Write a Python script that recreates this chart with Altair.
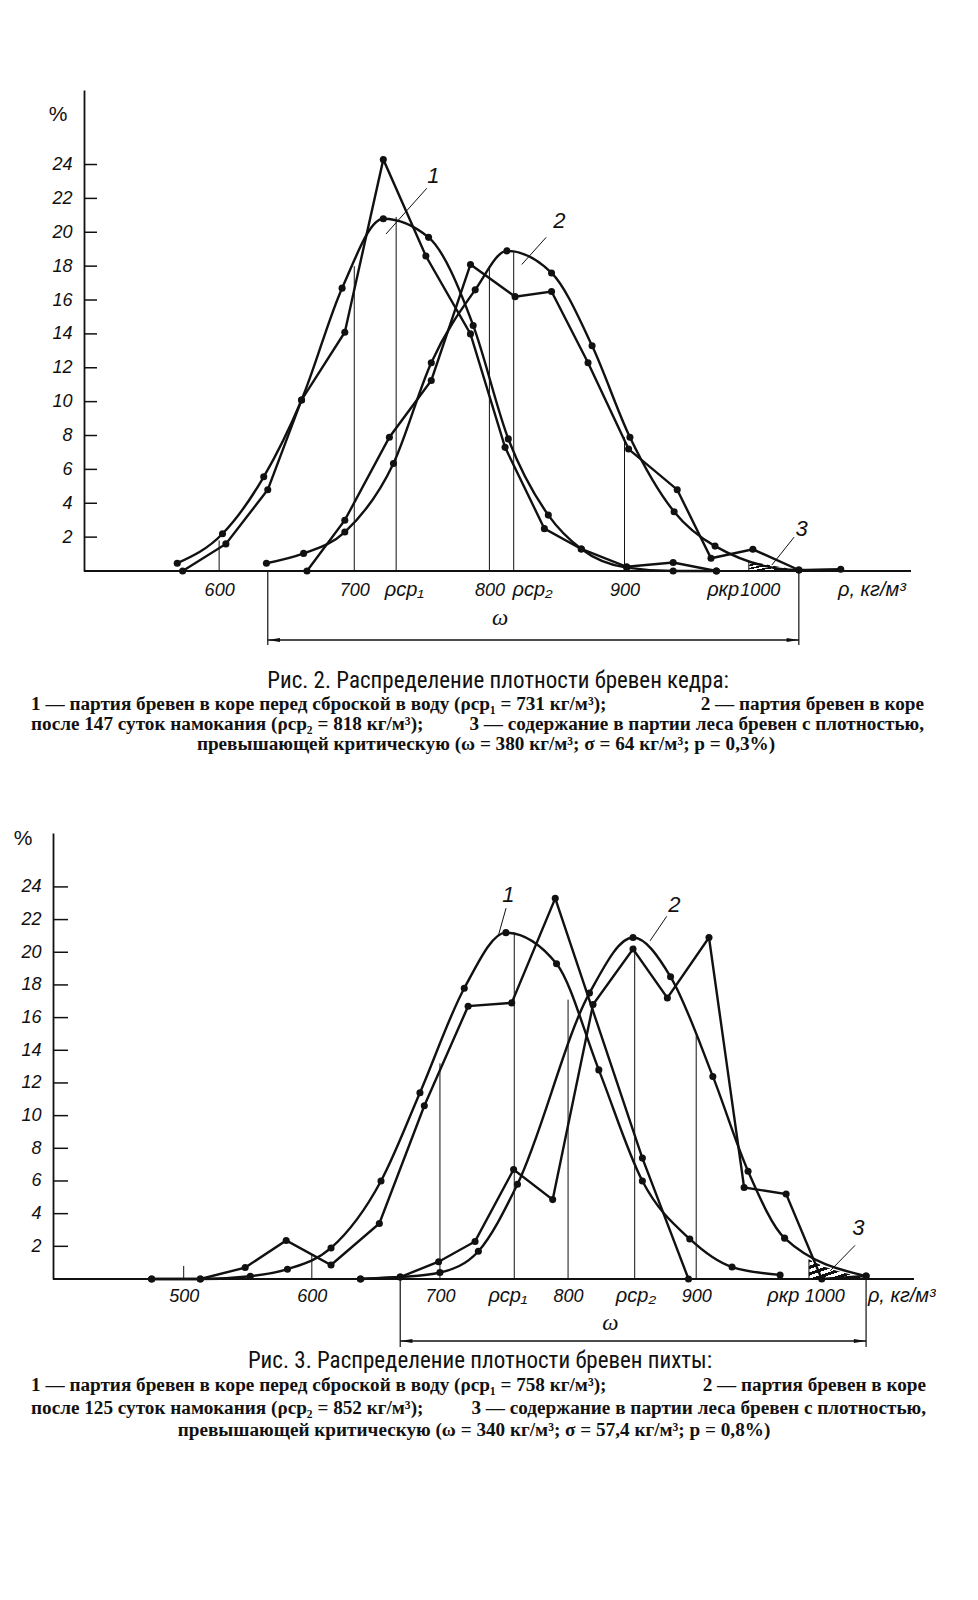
import altair as alt
import pandas as pd

# ================= Рис. 2 (кедр) =================
f2_poly1_x = [573, 605, 636, 661, 693, 721.5, 753, 786, 811.6, 840.7, 868, 901.6, 936, 968]
f2_poly1_y = [0, 1.6, 4.8, 10.1, 14.1, 24.3, 18.6, 14.0, 7.3, 2.5, 1.3, 0.25, 0.5, 0.0]
f2_curve1_x = [569, 602.5, 633, 661, 691, 721.5, 755, 788, 814, 843.6, 868, 901.6, 936, 968]
f2_curve1_y = [0.46, 2.2, 5.56, 10.1, 16.7, 20.8, 19.7, 14.5, 7.8, 3.3, 1.3, 0.2, 0.0, 0.0]
f2_poly2_x = [665, 693, 726, 757, 786, 819, 846, 873, 903, 939, 964, 995, 1029]
f2_poly2_y = [0, 3.0, 7.9, 11.25, 18.1, 16.2, 16.5, 12.3, 7.2, 4.8, 0.75, 1.28, 0.06]
f2_curve2_x = [635, 662.5, 693, 729, 757, 789.5, 813, 846, 876, 904, 936.7, 967, 1029, 1060]
f2_curve2_y = [0.46, 1.04, 2.3, 6.35, 12.3, 16.6, 18.9, 17.6, 13.3, 7.9, 3.5, 1.47, 0.06, 0.1]
f2_vline_x = [600, 700, 731, 800, 818, 900]
f2_vline_top = [1.8, 18.0, 20.9, 18.0, 18.8, 7.9]
f2_hatch_x = [992, 1004, 1016, 1029]
f2_hatch_y = [0.55, 0.4, 0.22, 0.06]
f2_omega = [636, 1029]
f2_x_ticks = [600, 700, 800, 900, 1000]
f2_y_ticks = [2, 4, 6, 8, 10, 12, 14, 16, 18, 20, 22, 24]
f2_rho_text = ["ρср₁", "ρср₂", "ρкр"]
f2_rho_at = [737, 832, 973]
f2_unit_at = 1058
f2_num_text = ["1", "2", "3"]
f2_num_x = [758.5, 851.8, 1031]
f2_num_y = [23.3, 20.65, 2.5]
f2_lead_x = [723.5, 824, 1009]
f2_lead_y = [19.9, 18.1, 0.35]
f2_lead_x2 = [753.7, 842, 1025.5]
f2_lead_y2 = [22.6, 19.7, 2.0]
f2_omega_at = 808
f2_caption = [
    "Рис. 2. Распределение плотности бревен кедра:",
    "1 — партия бревен в коре перед  сброской в воду  (ρср₁ = 731 кг/м³);",
    "2 — партия  бревен в коре",
    "после 147 суток намокания (ρср₂ = 818 кг/м³);",
    "3 — содержание в партии леса бревен с плотностью,",
    "превышающей критическую (ω = 380  кг/м³;   σ = 64  кг/м³;   p = 0,3%)",
]

# ================= Рис. 3 (пихта) =================
f3_poly1_x = [475, 513, 548, 580, 615, 652.7, 687.8, 722, 756, 790, 858, 894]
f3_poly1_y = [0, 0, 0.7, 2.36, 0.86, 3.4, 10.6, 16.7, 16.9, 23.3, 7.4, 0]
f3_curve1_x = [475, 513, 552, 581, 615, 654, 684.4, 719, 751.5, 791, 824, 858, 895, 928, 965.5]
f3_curve1_y = [0, 0, 0.17, 0.6, 1.9, 6.0, 11.4, 17.8, 21.2, 19.3, 12.8, 6.0, 2.45, 0.73, 0.25]
f3_poly2_x = [638, 669, 699, 727.4, 757.5, 788, 819.5, 850.7, 877.5, 910, 937.4, 970.2, 998, 1032.6]
f3_poly2_y = [0, 0.12, 1.06, 2.3, 6.7, 4.86, 16.8, 20.2, 17.2, 20.9, 5.6, 5.2, 0, 0.18]
f3_curve2_x = [638, 669, 700, 730, 760.5, 816.7, 850.7, 880, 913, 940.5, 969, 1032.6]
f3_curve2_y = [0, 0.12, 0.4, 1.7, 5.8, 17.5, 20.9, 18.5, 12.4, 6.6, 2.5, 0.18]
f3_vline_x = [500, 600, 700, 758, 800, 852, 900]
f3_vline_top = [0.8, 1.5, 13.2, 21.2, 17.1, 20.4, 14.9]
f3_hatch_x = [988, 1000, 1012, 1024, 1032]
f3_hatch_y = [1.2, 0.75, 0.45, 0.22, 0.15]
f3_omega = [669, 1032.6]
f3_x_ticks = [500, 600, 700, 800, 900, 1000]
f3_y_ticks = [2, 4, 6, 8, 10, 12, 14, 16, 18, 20, 22, 24]
f3_rho_text = ["ρср₁", "ρср₂", "ρкр"]
f3_rho_at = [753, 853, 968]
f3_unit_at = 1034
f3_num_text = ["1", "2", "3"]
f3_num_x = [753.5, 883, 1026.6]
f3_num_y = [23.5, 22.9, 3.1]
f3_lead_x = [745.5, 864, 1004.6]
f3_lead_y = [21.0, 20.7, 0.5]
f3_lead_x2 = [751.6, 877, 1024]
f3_lead_y2 = [22.7, 22.2, 2.06]
f3_omega_at = 833
f3_caption = [
    "Рис. 3. Распределение плотности бревен пихты:",
    "1 — партия бревен в коре  перед  сброской в воду  (ρср₁ = 758  кг/м³);",
    "2 — партия  бревен в коре",
    "после 125 суток намокания (ρср₂ = 852 кг/м³);",
    "3 — содержание в партии леса бревен с плотностью,",
    "превышающей критическую (ω = 340  кг/м³;   σ = 57,4  кг/м³;   p = 0,8%)",
]

TICK_FONT = "Liberation Sans"
TITLE_FONT = "Liberation Sans Narrow, Roboto Condensed, Liberation Sans"
BODY_FONT = "Liberation Serif"
INK = "#111111"
BODY_SIZE = 19.2


def frame(xs, ys, name):
    return pd.DataFrame({"x": xs, "y": ys, "s": name})


def panel(p1, c1, p2, c2, vx, vtop, hx, hy, omega, xdom, ydom, W, H, xticks, yticks,
          rho_text, rho_at, unit_at, num_text, num_x, num_y, lx, ly, lx2, ly2, omega_at,
          caption, cap_geom, shift, top_mark, bottom_mark, pct_pos, lab_pad, tick_len):
    # shift: distance (px) of the drawn y axis to the left of the plot origin
    px_per_unit = W / (xdom[1] - xdom[0])
    x_start = xdom[0] + shift / px_per_unit
    xs = alt.Scale(domain=[x_start, xdom[1]], nice=False, zero=False)
    ys = alt.Scale(domain=ydom, nice=False, zero=False)
    xaxis = alt.Axis(values=xticks, ticks=False, grid=False, domain=False,
                     labelFont=TICK_FONT, labelFontStyle="italic", labelFontSize=18,
                     labelColor=INK, labelPadding=lab_pad, labelFlush=False, title=None, format="d")
    yaxis = alt.Axis(values=yticks, ticks=False, grid=False, domainColor=INK, domainWidth=1.8,
                     labelFont=TICK_FONT, labelFontStyle="italic", labelFontSize=18,
                     labelColor=INK, labelPadding=12, title=None, format="d", offset=shift)

    def X(f="x"):
        return alt.X(f"{f}:Q", scale=xs, axis=xaxis)

    def Y(f="y"):
        return alt.Y(f"{f}:Q", scale=ys, axis=yaxis)

    one = pd.DataFrame({"a": [0]})
    polys = pd.concat([frame(*p1, "p1"), frame(*p2, "p2")])
    curves = pd.concat([frame(*c1, "c1"), frame(*c2, "c2")])

    # x axis baseline from the y axis to the end of the axis
    base = alt.Chart(pd.DataFrame({"a": [xdom[0]], "b": [xdom[1]]})).mark_rule(
        color=INK, strokeWidth=1.8).encode(x=X("a"), x2="b:Q", y=alt.value(H))

    # hatched area 3
    n = 6
    stops = []
    for i in range(n):
        a, b, c = i / n, (i + 0.5) / n, (i + 1) / n
        stops += [alt.GradientStop(color=INK, offset=a), alt.GradientStop(color=INK, offset=b),
                  alt.GradientStop(color="rgba(255,255,255,0)", offset=b),
                  alt.GradientStop(color="rgba(255,255,255,0)", offset=c)]
    hatch_df = pd.DataFrame({"x": hx, "y": hy})
    hatch = alt.Chart(hatch_df).mark_area(
        color=alt.Gradient(gradient="linear", stops=stops, x1=0, y1=0, x2=1, y2=1)
    ).encode(x=X(), y=Y())
    hatch_edge = alt.Chart(pd.DataFrame({"x": hx[:1], "y": hy[:1], "z": [0]})).mark_rule(
        color=INK, strokeWidth=1).encode(x=X(), y=Y(), y2="z:Q")

    vdf = pd.DataFrame({"x": vx, "top": vtop, "z": 0})
    vlines = alt.Chart(vdf).mark_rule(color=INK, strokeWidth=1).encode(x=X(), y=Y("top"), y2="z:Q")

    ytick_df = pd.DataFrame({"y": yticks})
    yt = alt.Chart(ytick_df).mark_rule(color=INK, strokeWidth=1.5).encode(
        y=Y(), x=alt.value(-shift), x2=alt.value(-shift + tick_len))

    poly_l = alt.Chart(polys).mark_line(color=INK, strokeWidth=2.4).encode(
        x=X(), y=Y(), detail="s:N")
    curve_l = alt.Chart(curves).mark_line(color=INK, strokeWidth=2.4, interpolate="monotone").encode(
        x=X(), y=Y(), detail="s:N")
    dots = alt.Chart(pd.concat([polys, curves])).mark_circle(size=50, color=INK, opacity=1).encode(
        x=X(), y=Y())

    lead_df = pd.DataFrame({"x": lx, "y": ly, "x2": lx2, "y2": ly2})
    leads = alt.Chart(lead_df).mark_rule(color=INK, strokeWidth=1).encode(
        x=X(), y=Y(), x2="x2:Q", y2="y2:Q")
    num_df = pd.DataFrame({"x": num_x, "y": num_y, "t": num_text})
    nums = alt.Chart(num_df).mark_text(font=TICK_FONT, fontStyle="italic", fontSize=22,
                                       color=INK).encode(x=X(), y=Y(), text="t:N")

    rho_df = pd.DataFrame({"x": rho_at, "t": rho_text})
    rho = alt.Chart(rho_df).mark_text(font=TICK_FONT, fontStyle="italic", fontSize=20, color=INK,
                                      baseline="middle").encode(
        x=X(), y=alt.value(H + cap_geom["lab_dy"]), text="t:N")
    unit = alt.Chart(pd.DataFrame({"x": [unit_at]})).mark_text(
        text="ρ, кг/м³", font=TICK_FONT, fontStyle="italic", fontSize=20, color=INK,
        align="left").encode(x=X(), y=alt.value(H + cap_geom["lab_dy"]))

    om_df = pd.DataFrame({"a": [omega[0]], "b": [omega[1]]})
    om_v1 = alt.Chart(om_df).mark_rule(color=INK, strokeWidth=1.2).encode(
        x=X("a"), y=alt.value(H), y2=alt.value(H + cap_geom["om_bot"]))
    om_v2 = alt.Chart(om_df).mark_rule(color=INK, strokeWidth=1.2).encode(
        x=X("b"), y=alt.value(H), y2=alt.value(H + cap_geom["om_bot"]))
    om_h = alt.Chart(om_df).mark_rule(color=INK, strokeWidth=1.4).encode(
        x=X("a"), x2="b:Q", y=alt.value(H + cap_geom["om_y"]))
    arr_l = alt.Chart(om_df).mark_point(shape="M0,0L2,-0.32L2,0.32Z", filled=True, size=150,
                                        color=INK, opacity=1).encode(
        x=X("a"), y=alt.value(H + cap_geom["om_y"]))
    arr_r = alt.Chart(om_df).mark_point(shape="M0,0L-2,-0.32L-2,0.32Z", filled=True, size=150,
                                        color=INK, opacity=1).encode(
        x=X("b"), y=alt.value(H + cap_geom["om_y"]))
    om_t = alt.Chart(pd.DataFrame({"x": [omega_at]})).mark_text(
        text="ω", font="Liberation Serif", fontStyle="italic", fontSize=23, color=INK).encode(
        x=X(), y=alt.value(H + cap_geom["om_lab"]))

    pct = alt.Chart(one).mark_text(text="%", font=TICK_FONT, fontSize=21, color=INK).encode(
        x=alt.value(pct_pos[0] - shift), y=alt.value(pct_pos[1]))

    g = cap_geom

    def cap(text, x, y, align="center", font=BODY_FONT, size=BODY_SIZE, weight="bold"):
        return alt.Chart(one).mark_text(text=text, font=font, fontSize=size, fontWeight=weight,
                                        color=INK, align=align).encode(
            x=alt.value(x - shift), y=alt.value(H + y))

    cap_layers = [
        cap(caption[0], g["title_x"], g["title_dy"], font=TITLE_FONT, size=23, weight="normal"),
        cap(caption[1], g["left"], g["l1"], align="left"),
        cap(caption[2], g["right"], g["l1"], align="right"),
        cap(caption[3], g["left"], g["l2"], align="left"),
        cap(caption[4], g["right"], g["l2"], align="right"),
        cap(caption[5], g["l3_x"], g["l3"]),
    ]

    markers = [
        alt.Chart(one).mark_text(text=".", fontSize=1, opacity=0, align="left", baseline="top").encode(
            x=alt.value(-76), y=alt.value(top_mark)),
    ]
    if bottom_mark is not None:
        markers.append(alt.Chart(one).mark_text(text=".", fontSize=1, opacity=0, align="left",
                                                baseline="top").encode(
            x=alt.value(0), y=alt.value(bottom_mark)))

    return alt.layer(base, hatch, hatch_edge, vlines, yt, poly_l, curve_l, dots, leads, nums, rho,
                     unit, om_v1, om_v2, om_h, arr_l, arr_r, om_t, pct, *cap_layers,
                     *markers).properties(width=W - shift, height=H)


H1, W1 = 481, 827
geom1 = dict(lab_dy=19, om_bot=74, om_y=69, om_lab=47, title_x=414, title_dy=110,
             left=-53, right=840, l1=132.5, l2=153, l3=173, l3_x=402)
chart1 = panel((f2_poly1_x, f2_poly1_y), (f2_curve1_x, f2_curve1_y),
               (f2_poly2_x, f2_poly2_y), (f2_curve2_x, f2_curve2_y),
               f2_vline_x, f2_vline_top, f2_hatch_x, f2_hatch_y, f2_omega,
               [500, 1112], [0, 28.4], W1, H1, f2_x_ticks, f2_y_ticks,
               f2_rho_text, f2_rho_at, f2_unit_at, f2_num_text, f2_num_x, f2_num_y,
               f2_lead_x, f2_lead_y, f2_lead_x2, f2_lead_y2, f2_omega_at,
               f2_caption, geom1, 0, -82, 670, (-26, 25), 10, 13)

H2, W2 = 446, 861
geom2 = dict(lab_dy=17, om_bot=68, om_y=62, om_lab=44, title_x=427, title_dy=82,
             left=-22, right=873, l1=106, l2=129, l3=151, l3_x=421)
chart2 = panel((f3_poly1_x, f3_poly1_y), (f3_curve1_x, f3_curve1_y),
               (f3_poly2_x, f3_poly2_y), (f3_curve2_x, f3_curve2_y),
               f3_vline_x, f3_vline_top, f3_hatch_x, f3_hatch_y, f3_omega,
               [398, 1070], [0, 27.3], W2, H2, f3_x_ticks, f3_y_ticks,
               f3_rho_text, f3_rho_at, f3_unit_at, f3_num_text, f3_num_x, f3_num_y,
               f3_lead_x, f3_lead_y, f3_lead_x2, f3_lead_y2, f3_omega_at,
               f3_caption, geom2, 31, -72, None, (-30, 6), 8, 15)

chart = alt.vconcat(chart1, chart2, spacing=0, padding=0,
                    background="white").configure_view(stroke=None)

chart.save("out.html", embed_options={"renderer": "svg", "actions": False})
